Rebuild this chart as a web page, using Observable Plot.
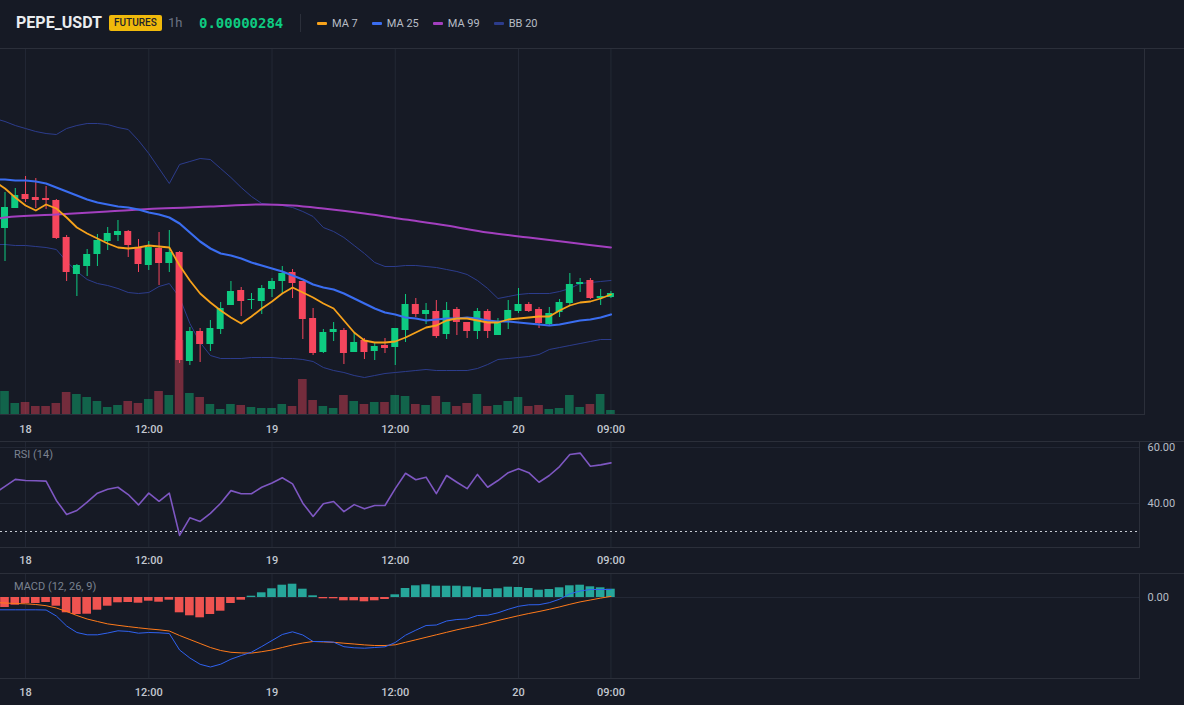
<!DOCTYPE html>
<html><head><meta charset="utf-8">
<script src="https://cdn.jsdelivr.net/npm/d3@7"></script>
<script src="https://cdn.jsdelivr.net/npm/@observablehq/plot@0.6"></script>
<style>
html,body{margin:0;padding:0;background:#161a25;}
#root{position:relative;width:1184px;height:705px;overflow:hidden;background:#161a25;font-family:Roboto,"Noto Sans",sans-serif;}
.abs{position:absolute;}
.hline{position:absolute;height:1px;background:#2b2f3a;}
.vline{position:absolute;width:1px;background:#2b2f3a;}
#header span{position:absolute;top:0;line-height:46px;white-space:nowrap;}
.pane-title{position:absolute;font-size:11px;color:#7a8290;line-height:14px;}
.legend{position:absolute;top:0;left:317px;height:46px;display:flex;align-items:center;gap:14px;font-size:11px;color:#b7bdc6;}
.legend .item{display:flex;align-items:center;gap:5px;}
.legend .dash{width:10px;height:3px;border-radius:1px;}
svg{overflow:hidden}
</style></head>
<body><div id="root"></div>
<script>
// ---------- data (prices in 1e-9 USDT) ----------
const symbol = "PEPE_USDT";
const market = "FUTURES";
const interval = "1h";
const lastPrice = "0.00000284";
const legendLabels = ["MA 7", "MA 25", "MA 99", "BB 20"];

// candles, hour index 0 = 17th 22:00
const opens  = [2906,2926,2940,2937,2936,2934,2897,2860,2868,2880, 2893,2899,2903,2887,2869,2886,2871,2882,2773,2803, 2790,2805,2829,2844,2835,2833,2845,2853,2862,2853, 2816,2782,2802,2804,2782,2794,2783,2789,2787,2804, 2830,2820,2823,2800,2825,2812,2803,2823,2799,2814, 2823,2830,2825,2810,2822,2831,2850,2854,2836,2837];
const highs  = [2942,2946,2958,2956,2948,2935,2899,2870,2885,2900, 2907,2914,2904,2895,2893,2902,2904,2883,2807,2806, 2814,2832,2853,2847,2841,2849,2856,2868,2865,2853, 2826,2805,2812,2806,2801,2796,2792,2796,2806,2840, 2836,2831,2834,2832,2827,2812,2826,2825,2816,2834, 2846,2832,2827,2827,2835,2861,2856,2856,2845,2843];
const lows   = [2873,2926,2932,2926,2925,2895,2853,2838,2858,2868, 2884,2893,2877,2862,2864,2849,2862,2771,2769,2772, 2783,2800,2829,2818,2825,2820,2837,2840,2836,2795, 2779,2781,2793,2770,2782,2775,2774,2781,2769,2792, 2817,2810,2796,2795,2799,2796,2795,2796,2799,2805, 2821,2822,2806,2809,2817,2829,2842,2835,2829,2836];
const closes = [2927,2939,2935,2934,2934,2896,2862,2869,2880,2894, 2901,2903,2889,2870,2887,2871,2882,2774,2803,2790, 2806,2826,2843,2833,2835,2846,2853,2861,2851,2815, 2781,2802,2805,2781,2792,2782,2788,2786,2806,2830, 2820,2824,2798,2824,2812,2803,2823,2803,2811,2824, 2830,2823,2811,2821,2832,2850,2852,2836,2838,2841];
const volumes = [23,11,12,8,8,11,22,20,17,13, 7,9,13,11,15,23,19,74,21,17, 10,5,10,9,7,6,6,10,8,35, 14,8,6,19,13,10,12,12,19,18, 10,9,18,12,8,11,20,8,9,13, 17,8,9,5,6,19,7,10,20,4];

// indicator series start one hour before the first candle
const LINE_START = -1;
const ma7  = [2953,2946,2937,2929,2924,2930,2926,2917,2907,2901,2896,2891,2887,2886,2887,2889,2888,2887,2869,2854,2841,2832,2824,2817,2811,2818,2826,2833,2841,2847,2842,2837,2831,2826,2814,2802,2794,2792,2792,2793,2797,2802,2807,2809,2814,2816,2816,2814,2812,2812,2815,2816,2817,2818,2818,2824,2829,2832,2833,2836,2840];
const ma25 = [2955,2955,2954,2954,2953,2951,2947,2943,2939,2935,2932,2930,2928,2927,2925,2922,2920,2917,2911,2902,2893,2886,2881,2879,2876,2872,2869,2866,2863,2859,2855,2850,2847,2845,2841,2836,2831,2826,2822,2820,2817,2816,2814,2815,2816,2816,2817,2816,2814,2813,2813,2812,2811,2810,2809,2810,2812,2814,2815,2817,2820];
const bbUpper = [3016,3013,3009,3006,3003,3001,3000,3006,3009,3011,3011,3010,3007,3005,2994,2981,2966,2951,2970,2973,2976,2975,2966,2957,2947,2938,2931,2930,2929,2927,2923,2918,2907,2903,2897,2889,2881,2872,2868,2868,2869,2869,2868,2867,2865,2863,2860,2854,2846,2836,2838,2840,2841,2841,2841,2843,2846,2851,2852,2853,2854];
const bbLower = [2890,2890,2889,2889,2888,2887,2885,2873,2863,2855,2851,2849,2846,2842,2841,2842,2848,2851,2837,2811,2792,2779,2776,2776,2776,2777,2777,2777,2776,2776,2775,2773,2767,2764,2762,2759,2757,2759,2761,2762,2763,2764,2765,2764,2764,2764,2764,2766,2770,2775,2776,2777,2778,2780,2785,2787,2789,2791,2793,2795,2795];
const ma99Hours = [-1,0,5,10,15,20,25,28,31,35,39,43,47,51,55,59];
const ma99 = [2915,2917,2920,2923,2926,2928,2930,2929,2926,2921,2915,2909,2902,2897,2892,2887];
const rsi = [43.6,46.1,48.6,48.2,48.1,48.0,41.1,36.1,37.5,40.5,43.7,45.1,45.8,43.2,39.5,43.7,40.8,43.7,28.6,34.9,33.6,36.5,40.1,44.6,43.5,43.5,45.8,47.3,49.2,47.0,40.1,35.4,39.9,40.7,37.1,39.6,38.1,39.3,39.3,45.3,50.8,48.5,49.4,43.5,50.0,47.6,45.3,50.4,45.8,48.2,51.0,52.4,51.0,47.6,50.0,53.2,57.5,58.0,53.3,53.8,54.5];
const macd = [-12.3,-12.3,-12.3,-12.3,-12.3,-12.5,-18.5,-28.5,-35,-37.3,-37.3,-35.5,-33.3,-33.9,-35.7,-35,-35.3,-36,-52.5,-60.5,-66.8,-69.5,-66.7,-61.7,-58,-54.7,-49,-43,-37,-34.3,-37.5,-44,-44,-44.7,-49.2,-50.3,-50.7,-50,-49.3,-45,-37.7,-32.7,-28,-27.5,-23.5,-22,-21.5,-18,-17.7,-15.3,-11.8,-8.8,-7.3,-7.2,-5.2,-1.7,3.6,6.5,8,8,8];
const signal = [-5,-5.5,-6,-6.3,-7,-8.2,-10.5,-14,-18,-21.5,-24,-26.4,-27.8,-29.1,-30.3,-31.4,-32.3,-33.5,-38,-42,-46,-50,-53,-54.8,-55.4,-55.6,-54.2,-52.5,-50,-47.5,-45.5,-44,-44.4,-44.8,-45.7,-46.5,-47.4,-48,-48,-47.3,-44.8,-42.3,-39.8,-37.3,-34.8,-32.3,-30.1,-28,-25.6,-23,-20.6,-18.2,-16,-14,-11.8,-9.4,-6.8,-4.4,-2.5,-0.6,1.1];
const hist = [-10,-7.7,-6,-6,-5,-8.7,-15.3,-17,-16.7,-12.7,-8.7,-5.3,-5,-5.7,-3.7,-4.7,-2.7,-15.3,-18.3,-20.3,-17,-13.7,-6,-2.7,1.3,4.7,8.7,12.3,13.3,8.3,1.7,-1.3,-1.3,-3.3,-3.3,-4.3,-3.3,-2,2.7,9,11.7,12.7,11.3,11.3,11.3,10.7,9.7,8,8.7,10.3,10,9,7.3,8,9.7,11.7,12.3,10.7,9.7,8.3];

const tickHours = [2,14,26,38,50,59];
const tickLabels = ["18","12:00","19","12:00","20","09:00"];
const rsiTicks = [40,60];
const rsiRef = 30;
const macdTicks = [0];

// ---------- style / layout ----------
const W = 1184;
const HOUR_PX = 10.27, FIRST_X = 4.5;
const GRID = "#232835", AXIS_TEXT = "#c3c8d0";
const UP = "#0ecb81", DOWN = "#f6465d";
const HIST_UP = "#26a69a", HIST_DOWN = "#ef5350";
const C_MA7 = "#f7a21b", C_MA25 = "#3a6df0", C_MA99 = "#a33fbf", C_BB = "#2c3c8c";
const legendColors = [C_MA7, C_MA25, C_MA99, C_BB];
const xDomain = right => [-FIRST_X / HOUR_PX, (right - FIRST_X) / HOUR_PX];
const tickFmt = d => tickLabels[tickHours.indexOf(d)];
const baseStyle = {background: "transparent", color: AXIS_TEXT, fontFamily: "Roboto, 'Noto Sans', sans-serif", fontSize: "11px"};

const candles = opens.map((o, i) => ({i, open: o, high: highs[i], low: lows[i], close: closes[i], volume: volumes[i], up: closes[i] >= o}));
const lineRows = ma7.map((v, k) => ({i: LINE_START + k, ma7: v, ma25: ma25[k], bbU: bbUpper[k], bbL: bbLower[k], rsi: rsi[k], macd: macd[k], signal: signal[k]}));
const ma99Rows = ma99Hours.map((h, k) => ({i: h, v: ma99[k]}));
const histRows = hist.map((v, i) => ({i, v}));

const root = document.getElementById("root");
function place(node, top, left = 0) {
  const d = document.createElement("div");
  d.className = "abs"; d.style.top = top + "px"; d.style.left = left + "px";
  d.appendChild(node); root.appendChild(d); return d;
}
function line(cls, css) { const d = document.createElement("div"); d.className = cls; Object.assign(d.style, css); root.appendChild(d); }

// ---------- header ----------
const header = document.createElement("div");
header.id = "header"; header.className = "abs"; header.style.cssText = "top:0;left:0;width:1184px;height:47px;";
header.innerHTML = `
<span style="left:16px;font-size:16px;font-weight:700;color:#eaecef;">${symbol}</span>
<span style="left:109px;top:15px;line-height:16px;height:16px;padding:0 5px;background:#f0b90b;color:#1e2329;font-size:10px;font-weight:500;border-radius:2px;">${market}</span>
<span style="left:168px;font-size:13px;color:#6b7383;">${interval}</span>
<span style="left:199px;font-size:14px;font-weight:700;color:#0ecb81;font-family:'DejaVu Sans Mono',monospace;">${lastPrice}</span>
<span style="left:300px;top:14px;width:1px;height:18px;background:#2b2f3a;"></span>`;
root.appendChild(header);
const legend = document.createElement("div");
legend.className = "legend";
legend.innerHTML = legendLabels.map((l, k) => `<div class="item"><div class="dash" style="background:${legendColors[k]}"></div><span>${l}</span></div>`).join("");
root.appendChild(legend);

// ---------- main price pane ----------
const mainPlot = Plot.plot({
  width: W, height: 393, marginTop: 0, marginLeft: 0, marginRight: 40, marginBottom: 27,
  x: {domain: xDomain(1144), label: null}, y: {domain: [2720, 3086], axis: null},
  style: baseStyle,
  marks: [
    Plot.gridX(tickHours, {stroke: GRID, strokeOpacity: 1}),
    Plot.axisX(tickHours, {tickSize: 0, tickPadding: 11, tickFormat: tickFmt, fill: AXIS_TEXT, fontWeight: 500, label: null}),
    Plot.line(lineRows, {x: "i", y: "bbU", stroke: C_BB, strokeWidth: 1, clip: true}),
    Plot.line(lineRows, {x: "i", y: "bbL", stroke: C_BB, strokeWidth: 1, clip: true}),
    Plot.ruleX(candles, {x: "i", y1: "low", y2: "high", stroke: d => d.up ? UP : DOWN, strokeWidth: 1}),
    Plot.rect(candles, {x1: d => d.i - 0.34, x2: d => d.i + 0.34, y1: "open", y2: "close", fill: d => d.up ? UP : DOWN}),
    Plot.ruleY(candles.filter(d => d.open === d.close), {y: "open", x1: d => d.i - 0.34, x2: d => d.i + 0.34, stroke: UP}),
    Plot.line(ma99Rows, {x: "i", y: "v", stroke: C_MA99, strokeWidth: 2, curve: "monotone-x", clip: true}),
    Plot.line(lineRows, {x: "i", y: "ma25", stroke: C_MA25, strokeWidth: 2.2, clip: true}),
    Plot.line(lineRows, {x: "i", y: "ma7", stroke: C_MA7, strokeWidth: 1.8, clip: true})
  ]
});
place(mainPlot, 48);

// volume overlay
const volPlot = Plot.plot({
  width: W, height: 366, marginTop: 0, marginLeft: 0, marginRight: 40, marginBottom: 0,
  x: {domain: xDomain(1144), axis: null}, y: {domain: [0, 366], axis: null},
  style: baseStyle,
  marks: [
    Plot.rect(candles, {x1: d => d.i - 0.42, x2: d => d.i + 0.42, y1: 0, y2: "volume", fill: d => d.up ? UP : DOWN, fillOpacity: 0.42})
  ]
});
place(volPlot, 48);

// ---------- RSI pane ----------
const rsiPlot = Plot.plot({
  width: W, height: 132, marginTop: 0, marginLeft: 0, marginRight: 45, marginBottom: 26,
  x: {domain: xDomain(1139), label: null}, y: {domain: [24.29, 62.14], label: null},
  style: baseStyle,
  marks: [
    Plot.gridX(tickHours, {stroke: GRID, strokeOpacity: 1}),
    Plot.gridY(rsiTicks, {stroke: GRID, strokeOpacity: 1}),
    Plot.axisX(tickHours, {tickSize: 0, tickPadding: 9, tickFormat: tickFmt, fill: AXIS_TEXT, fontWeight: 500, label: null}),
    Plot.axisY(rsiTicks, {anchor: "right", tickSize: 0, tickPadding: 8, tickFormat: d => d.toFixed(2), fill: "#b7bdc6", textAnchor: "start", label: null}),
    Plot.ruleY([rsiRef], {stroke: "#c8ccd4", strokeDasharray: "2,3", strokeWidth: 1}),
    Plot.line(lineRows, {x: "i", y: "rsi", stroke: "#7e57c2", strokeWidth: 1.6, clip: true})
  ]
});
place(rsiPlot, 441);

// ---------- MACD pane ----------
const macdPlot = Plot.plot({
  width: W, height: 132, marginTop: 0, marginLeft: 0, marginRight: 45, marginBottom: 27,
  x: {domain: xDomain(1139), label: null}, y: {domain: [-81, 24], label: null},
  style: baseStyle,
  marks: [
    Plot.gridX(tickHours, {stroke: GRID, strokeOpacity: 1}),
    Plot.gridY(macdTicks, {stroke: GRID, strokeOpacity: 1}),
    Plot.axisX(tickHours, {tickSize: 0, tickPadding: 10, tickFormat: tickFmt, fill: AXIS_TEXT, fontWeight: 500, label: null}),
    Plot.axisY(macdTicks, {anchor: "right", tickSize: 0, tickPadding: 8, tickFormat: d => d.toFixed(2), fill: "#b7bdc6", textAnchor: "start", label: null}),
    Plot.rect(histRows, {x1: d => d.i - 0.42, x2: d => d.i + 0.42, y1: 0, y2: "v", fill: d => d.v >= 0 ? HIST_UP : HIST_DOWN}),
    Plot.line(lineRows, {x: "i", y: "signal", stroke: "#ff7a1a", strokeWidth: 1, clip: true}),
    Plot.line(lineRows, {x: "i", y: "macd", stroke: "#2f62f0", strokeWidth: 1, clip: true})
  ]
});
place(macdPlot, 573);

// ---------- pane borders & titles ----------
line("hline", {top: "48px", left: "0px", width: "1184px"});
line("hline", {top: "414px", left: "0px", width: "1144px"});
line("vline", {top: "48px", left: "1144px", height: "367px"});
line("hline", {top: "441px", left: "0px", width: "1184px"});
line("hline", {top: "547px", left: "0px", width: "1139px"});
line("vline", {top: "441px", left: "1139px", height: "107px"});
line("hline", {top: "573px", left: "0px", width: "1184px"});
line("hline", {top: "678px", left: "0px", width: "1139px"});
line("vline", {top: "573px", left: "1139px", height: "106px"});

const t1 = document.createElement("div"); t1.className = "pane-title"; t1.textContent = "RSI (14)"; t1.style.cssText = "top:448px;left:14px;"; root.appendChild(t1);
const t2 = document.createElement("div"); t2.className = "pane-title"; t2.textContent = "MACD (12, 26, 9)"; t2.style.cssText = "top:580px;left:14px;"; root.appendChild(t2);
</script>
</body></html>
